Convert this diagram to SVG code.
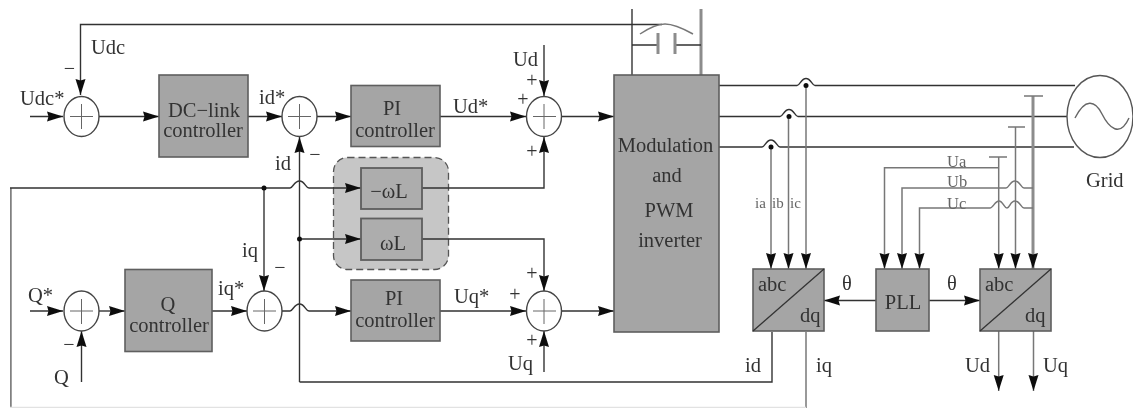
<svg xmlns="http://www.w3.org/2000/svg" width="1133" height="409" viewBox="0 0 1133 409">
<style>
text{font-family:"Liberation Serif","Times New Roman",serif;font-size:20.5px;fill:#333}
.m{text-anchor:middle}
.box{fill:#a5a5a5;stroke:#5e5e5e;stroke-width:1.6}
.in{fill:#adadad;stroke:#5e5e5e;stroke-width:1.8}
.sum{fill:#fff;stroke:#444;stroke-width:1.4}
.x{fill:none;stroke:#666;stroke-width:1}
.w{fill:none;stroke:#333;stroke-width:1.4}
.l{fill:none;stroke:#777;stroke-width:1.5}
.g{fill:none;stroke:#8c8c8c;stroke-width:3}
.a{marker-end:url(#ah)}
.s{font-size:20px;text-anchor:middle}
.t{font-size:15px;fill:#666}
.u{font-size:16.5px;fill:#666}
</style>
<defs>
<marker id="ah" markerUnits="userSpaceOnUse" markerWidth="17" markerHeight="11" refX="16" refY="5.500" orient="auto"><path d="M0 0.500L16 5.500L0 10.500L1.500 5.500Z" fill="#111"/></marker>
<filter id="soft" x="0" y="0" width="100%" height="100%"><feGaussianBlur stdDeviation="0.45"/></filter>
</defs>
<rect width="1133" height="409" fill="#fff"/>
<g filter="url(#soft)">
<g id="group-omega"><rect x="333.500" y="157.500" width="115" height="112" rx="14" fill="#c6c6c6" stroke="#555" stroke-width="1.300" stroke-dasharray="7 4"/></g>
<g id="connectors">
<path class="w a" d="M662 24.500H80.500V95"/>
<path class="l" d="M640 34Q655 24 665 24Q675 24 693 34"/>
<path class="w" d="M632 9V75"/><path class="g" d="M701 9V75"/>
<path class="w" d="M632 45H658M675 45H701"/><path class="g" d="M658 33V54M675 33V54"/>
<path class="w a" d="M30 116.500H63"/><path class="w a" d="M99 116.500H159"/>
<path class="w a" d="M248 116.500H282"/><path class="w a" d="M317 116.500H351"/>
<path class="w a" d="M440 116.500H526"/><path class="w a" d="M562 116.500H614"/>
<path class="w a" d="M544 45V96"/>
<path class="w a" d="M422 188H544V137"/>
<path class="w a" d="M422 239H544V291"/>
<path class="w a" d="M544 372V331"/>
<path class="w a" d="M299.500 382V137"/>
<path class="w a" d="M299.500 239H361"/>
<path class="w" d="M299.500 382H772V332"/>
<path class="l" d="M806 332V408"/>
<path d="M10 408V188" fill="none" stroke="#808080" stroke-width="3.500"/>
<path d="M10 407.500H806" fill="none" stroke="#e2e2e2" stroke-width="1.500"/>
<path class="w a" d="M10 188H290c3 0 4-7 9.500-7s6 7 9.500 7H361"/>
<path class="w a" d="M264 188V291"/>
<path class="w a" d="M30 311H63"/><path class="w a" d="M99 311H125"/>
<path class="w a" d="M81.500 382V331"/>
<path class="w a" d="M212 311H247"/>
<path class="w a" d="M282 311H290c3 0 4-7 9.500-7s6 7 9.500 7H351"/>
<path class="w a" d="M440 311H526"/><path class="w a" d="M562 311H614"/>
<path class="w" d="M719 85.500H797c3 0 4-7 9-7s6 7 9 7H1075"/>
<path class="w" d="M719 116.500H780c3 0 4-7 9-7s6 7 9 7H1067"/>
<path class="w" d="M719 147H762c3 0 4-7 9-7s6 7 9 7H1074"/>
<path class="l a" d="M771 147V269"/><path class="l a" d="M788.500 116.500V269"/><path class="l a" d="M806 85.500V269"/>
<path class="l a" d="M998.700 157V269"/><path class="l a" d="M1015.500 127V269"/><path class="g a" d="M1033 96V269"/>
<path class="l" d="M989 157H1007M1008 127H1025M1024 96H1043"/>
<path class="l a" d="M999 167.700H884.500V269"/>
<path class="l a" d="M1033 188H1024c-3 0-4-7-9-7s-6 7-9 7H902V269"/>
<path class="l a" d="M1033 208H1024c-3 0-4-7-9-7s-5 7-8 7s-4-7-8-7s-6 7-9 7H919.500V269"/>
<path class="w a" d="M876 300.500H824"/><path class="w a" d="M929 300.500H980"/>
<path class="l a" d="M998.700 331V391"/><path class="l a" d="M1033.500 331V391"/>
<g fill="#111"><circle cx="264" cy="188" r="2.500"/><circle cx="299.500" cy="239" r="2.500"/><circle cx="771" cy="147" r="2.500"/><circle cx="789" cy="116.500" r="2.500"/><circle cx="806" cy="85.500" r="2.500"/></g>
</g>
<g id="sum-udc"><ellipse class="sum" cx="81.500" cy="116.500" rx="17.500" ry="20"/><path class="x" d="M70 116.500H93M81.500 104V129"/></g>
<g id="sum-id"><ellipse class="sum" cx="299.500" cy="116.500" rx="17.500" ry="20"/><path class="x" d="M288 116.500H311M299.500 104V129"/></g>
<g id="sum-ud"><ellipse class="sum" cx="544" cy="116.500" rx="17.500" ry="20"/><path class="x" d="M533 116.500H556M544 104V129"/></g>
<g id="sum-q"><ellipse class="sum" cx="81.500" cy="311" rx="17.500" ry="20"/><path class="x" d="M70 311H93M81.500 299V324"/></g>
<g id="sum-iq"><ellipse class="sum" cx="264.500" cy="311" rx="17.500" ry="20"/><path class="x" d="M253 311H276M264.500 299V324"/></g>
<g id="sum-uq"><ellipse class="sum" cx="544" cy="311" rx="17.500" ry="20"/><path class="x" d="M533 311H556M544 299V324"/></g>
<g id="dc-link"><rect class="box" x="159" y="75" width="89" height="82"/><text class="m" x="204" y="117">DC−link</text><text class="m" x="203" y="137">controller</text></g>
<g id="pi-d"><rect class="box" x="351" y="85.500" width="89" height="61"/><text class="m" x="392" y="115">PI</text><text class="m" x="395" y="137">controller</text></g>
<g id="pi-q"><rect class="box" x="351" y="280" width="89" height="61"/><text class="m" x="394" y="305">PI</text><text class="m" x="395" y="327">controller</text></g>
<g id="q-ctrl"><rect class="box" x="125" y="269.500" width="87" height="82"/><text class="m" x="168" y="311">Q</text><text class="m" x="169" y="332">controller</text></g>
<g id="minus-wl"><rect class="in" x="361" y="168" width="61" height="41"/><text class="m" x="389" y="198">−ωL</text></g>
<g id="wl"><rect class="in" x="361" y="218.500" width="61" height="41.500"/><text class="m" x="393" y="250">ωL</text></g>
<g id="modulation"><rect class="box" x="614" y="75" width="105" height="257"/><text class="m" x="665.500" y="152">Modulation</text><text class="m" x="667" y="182">and</text><text class="m" x="669" y="217">PWM</text><text class="m" x="670" y="247">inverter</text></g>
<g id="abc-dq-i"><rect class="box" x="753" y="269" width="71" height="62"/><path d="M753 331L824 269" stroke="#333" stroke-width="1.300"/><text x="758" y="291">abc</text><text x="800" y="322">dq</text></g>
<g id="pll"><rect class="box" x="876" y="269" width="53" height="62"/><text class="m" x="903" y="309">PLL</text></g>
<g id="abc-dq-u"><rect class="box" x="980" y="269" width="71" height="62"/><path d="M980 331L1051 269" stroke="#333" stroke-width="1.300"/><text x="985" y="291">abc</text><text x="1025" y="322">dq</text></g>
<g id="grid"><ellipse cx="1100" cy="116.500" rx="33" ry="41" fill="#fff" stroke="#555" stroke-width="1.400"/><path d="M1075 118C1085 98 1095 100 1102 114S1120 138 1129 118" fill="none" stroke="#666" stroke-width="1.400"/><text x="1086" y="187">Grid</text></g>
<g id="labels">
<text x="91" y="54">Udc</text><text x="20" y="105">Udc*</text><text x="259" y="104">id*</text><text x="275" y="170">id</text>
<text x="453" y="113">Ud*</text><text x="513" y="66">Ud</text><text x="454" y="303">Uq*</text><text x="508" y="370">Uq</text>
<text class="s" x="532" y="87">+</text><text class="s" x="523" y="106">+</text><text class="s" x="532" y="158">+</text>
<text class="s" x="532" y="280">+</text><text class="s" x="515" y="301">+</text><text class="s" x="532" y="347">+</text>
<text x="28" y="302">Q*</text><text x="54" y="384">Q</text><text x="218" y="295">iq*</text><text x="242" y="257">iq</text>
<text class="m" x="847" y="290">θ</text><text class="m" x="952" y="290">θ</text>
<text x="745" y="372">id</text><text x="816" y="372">iq</text><text x="965" y="372">Ud</text><text x="1043" y="372">Uq</text>
<text class="s" x="69.500" y="75">−</text><text class="s" x="315" y="161">−</text><text class="s" x="280" y="274">−</text><text class="s" x="69" y="351">−</text>
<text class="t" x="755" y="208">ia</text><text class="t" x="772" y="208">ib</text><text class="t" x="790" y="208">ic</text>
<text class="u" x="947" y="167">Ua</text><text class="u" x="947" y="187">Ub</text><text class="u" x="947" y="209">Uc</text>
</g>
</g>
</svg>
